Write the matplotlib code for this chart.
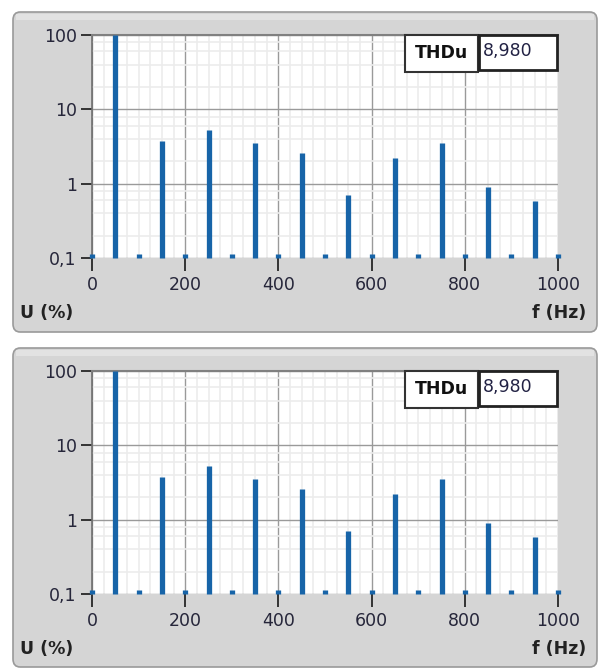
import numpy as np
import matplotlib.pyplot as plt
from matplotlib.patches import FancyBboxPatch, Rectangle
from matplotlib.ticker import FixedLocator, NullFormatter

# harmonic spectrum, 50 Hz fundamental
freq = [0, 50, 100, 150, 200, 250, 300, 350, 400, 450, 500,
        550, 600, 650, 700, 750, 800, 850, 900, 950, 1000]
u_pct = [0.113, 100, 0.113, 3.8, 0.113, 5.2, 0.113, 3.55, 0.113, 2.6, 0.113,
         0.70, 0.113, 2.2, 0.113, 3.5, 0.113, 0.89, 0.113, 0.58, 0.113]
y_ticks = [0.1, 1, 10, 100]
y_labels = ['0,1', '1', '10', '100']
x_ticks = [0, 200, 400, 600, 800, 1000]
thd_label = 'THDu'
thd_value = '8,980'

W, H = 600, 669
fig = plt.figure(figsize=(W / 100, H / 100), dpi=100)
fig.patch.set_facecolor('white')

bar_col = '#1764a8'
font = 'DejaVu Sans'


def px(x, y):
    return x / W, 1 - y / H


def panel(top_px, bot_px):
    x0, y1 = px(13, top_px)
    x1, y0 = px(597, bot_px)
    p = FancyBboxPatch((x0, y0), x1 - x0, y1 - y0,
                       boxstyle='round,pad=0,rounding_size=0.012',
                       transform=fig.transFigure, facecolor='#d5d5d5',
                       edgecolor='#9a9a9a', linewidth=1.2, zorder=-2)
    fig.patches.append(p)
    # lighter band near the top edge
    hx0, hy1 = px(16, top_px + 2)
    hx1, hy0 = px(594, top_px + 8)
    fig.patches.append(Rectangle((hx0, hy0), hx1 - hx0, hy1 - hy0,
                                 transform=fig.transFigure,
                                 facecolor='#e2e2e2', edgecolor='none', zorder=-1))


def draw(top_px, bot_px, panel_top, panel_bot):
    panel(panel_top, panel_bot)
    l, t = px(92, top_px)
    r, b = px(558, bot_px)
    ax = fig.add_axes([l, b, r - l, t - b])
    ax.set_facecolor('white')
    ax.set_yscale('log')
    ax.set_xlim(0, 1000)
    ax.set_ylim(0.1, 100)

    ax.xaxis.set_minor_locator(FixedLocator(np.arange(0, 1001, 25)))
    ax.yaxis.set_minor_locator(FixedLocator([m * 10.0 ** e for e in (-1, 0, 1)
                                             for m in (2, 4, 6, 8)]))
    ax.yaxis.set_minor_formatter(NullFormatter())
    ax.grid(True, which='minor', color='#ececec', linewidth=1.2, zorder=0)
    ax.grid(True, which='major', color='#9a9a9a', linewidth=1.0, zorder=0.5)
    ax.set_axisbelow(True)

    ax.vlines(freq, 0.1, u_pct, colors=bar_col, linewidth=3.8, zorder=3,
              clip_on=False, capstyle='butt')

    ax.set_yticks(y_ticks)
    ax.set_yticklabels(y_labels, fontsize=12.5, family=font, color='#26263a')
    ax.set_xticks(x_ticks)
    ax.set_xticklabels([str(v) for v in x_ticks], fontsize=12.5,
                       family=font, color='#26263a')
    ax.tick_params(axis='y', which='major', length=8, width=1.4,
                   color='#333333', pad=3)
    ax.tick_params(axis='x', which='major', direction='out', length=9,
                   width=1.4, color='#333333', pad=4)
    ax.tick_params(which='minor', length=0)

    for s in ('right', 'bottom'):
        ax.spines[s].set_visible(False)
    ax.spines['left'].set_color('#6f6f6f')
    ax.spines['left'].set_linewidth(1.2)
    ax.spines['top'].set_color('#808080')
    ax.spines['top'].set_linewidth(1.5)

    # axis names in the panel corners
    fx, fy = px(20, bot_px + 55)
    fig.text(fx, fy, 'U (%)', fontsize=12.5, fontweight='bold',
             family=font, color='#222222', va='center', ha='left')
    fx, fy = px(586, bot_px + 55)
    fig.text(fx, fy, 'f (Hz)', fontsize=12.5, fontweight='bold',
             family=font, color='#222222', va='center', ha='right')

    # THD indicator
    bx0, by1 = px(405, top_px)
    bx1, by0 = px(478, top_px + 37)
    fig.patches.append(Rectangle((bx0, by0), bx1 - bx0, by1 - by0,
                                 transform=fig.transFigure, facecolor='white',
                                 edgecolor='#333333', linewidth=1.5, zorder=5))
    fig.text((bx0 + bx1) / 2, (by0 + by1) / 2, thd_label, fontsize=12.5,
             fontweight='bold', family=font, color='#111111',
             ha='center', va='center', zorder=6)
    vx0, vy1 = px(479, top_px)
    vx1, vy0 = px(557, top_px + 35)
    fig.patches.append(Rectangle((vx0, vy0), vx1 - vx0, vy1 - vy0,
                                 transform=fig.transFigure, facecolor='white',
                                 edgecolor='#222222', linewidth=2.0, zorder=5))
    fig.text(vx0 + 4 / W, (vy0 + vy1) / 2 + 1 / H, thd_value, fontsize=12.5,
             family=font, color='#222244', ha='left', va='center', zorder=6)
    return ax


draw(35, 258, 12, 332)
draw(371, 594, 348, 667)

fig.savefig('out.png', dpi=100)
